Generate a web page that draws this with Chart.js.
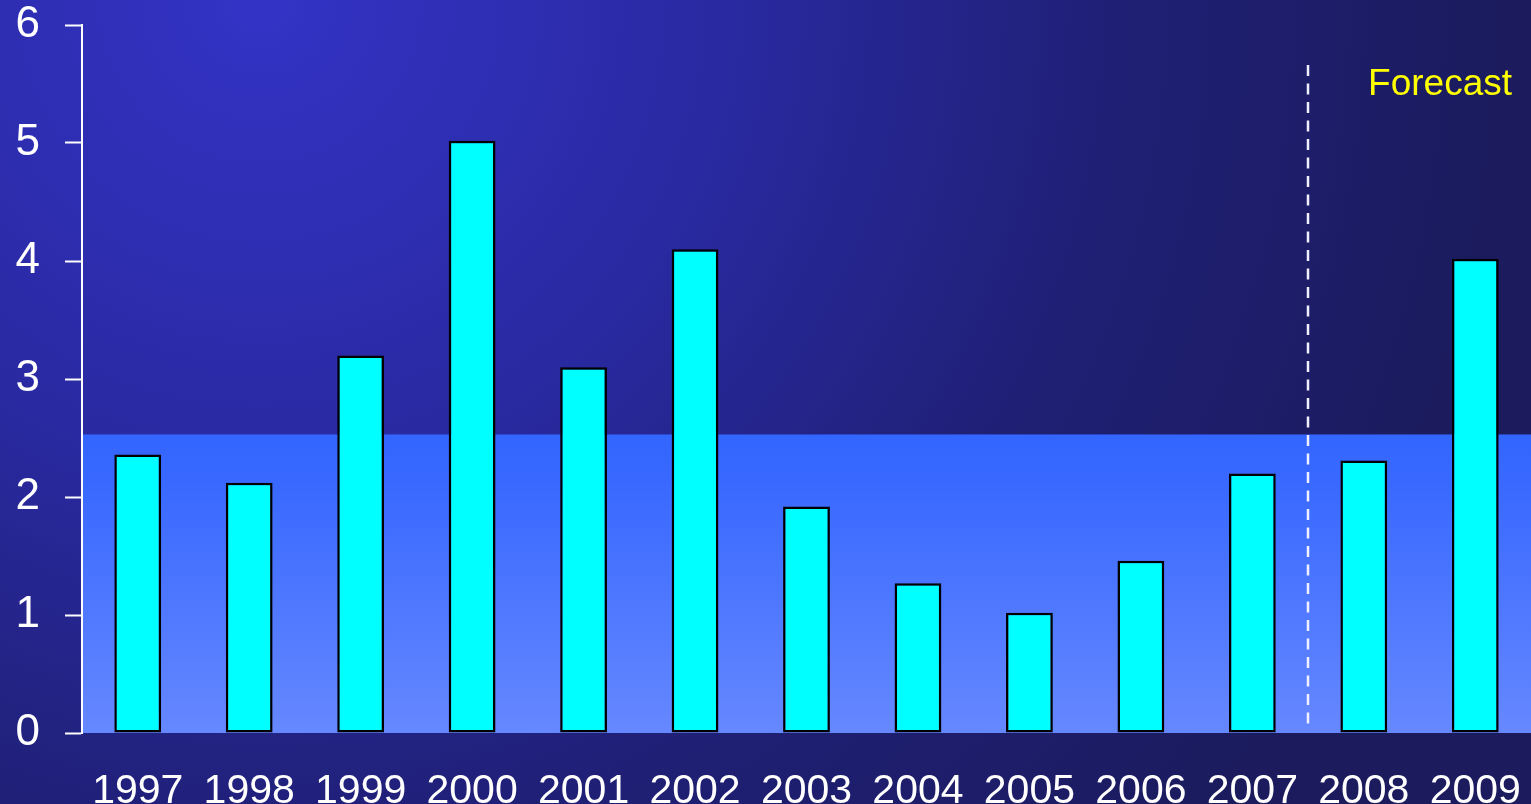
<!DOCTYPE html>
<html>
<head>
<meta charset="utf-8">
<script src="https://cdn.jsdelivr.net/npm/chart.js@4/dist/chart.umd.min.js"></script>
<style>
    body { margin: 0; background: #1c1c64; overflow: hidden; }
    canvas { display: block; }
</style>
</head>
<body>
<canvas id="chart" width="1531" height="804"></canvas>
<script>
var years = ["1997", "1998", "1999", "2000", "2001", "2002", "2003", "2004", "2005", "2006", "2007", "2008", "2009"];
var values = [2.36, 2.12, 3.20, 5.02, 3.10, 4.10, 1.92, 1.27, 1.02, 1.46, 2.20, 2.31, 4.02];
var yTicks = [0, 1, 2, 3, 4, 5, 6];
var bandLevel = 2.53; // light band behind the bars
var forecastAfter = "2007"; // dashed line sits between this year and the next
var forecastTop = 5.66;
var forecastLabel = "Forecast";

var font = "'Liberation Sans', Arial, sans-serif";

// background + light band + forecast marker
var decor = {
    id: "decor",
    beforeDraw: function (chart) {
        var ctx = chart.ctx;
        var w = chart.width, h = chart.height;
        ctx.save();
        var g = ctx.createRadialGradient(260, 0, 0, 260, 0, 1250);
        g.addColorStop(0, "#3333c6");
        g.addColorStop(0.35, "#2a2aa4");
        g.addColorStop(0.7, "#1f1f74");
        g.addColorStop(1, "#1b1b5e");
        ctx.fillStyle = g;
        ctx.fillRect(0, 0, w, h);

        var area = chart.chartArea;
        var y = chart.scales.y;
        var top = y.getPixelForValue(bandLevel);
        var bottom = y.getPixelForValue(0);
        var bg = ctx.createLinearGradient(0, top, 0, bottom);
        bg.addColorStop(0, "#3366ff");
        bg.addColorStop(0.15, "#3868ff");
        bg.addColorStop(1, "#6688ff");
        ctx.fillStyle = bg;
        ctx.fillRect(area.left, top, chart.width - area.left, bottom - top);
        ctx.restore();
    },
    afterDatasetsDraw: function (chart) {
        var ctx = chart.ctx;
        var x = chart.scales.x;
        var y = chart.scales.y;
        var i = years.indexOf(forecastAfter);
        var px = Math.round((x.getPixelForValue(i) + x.getPixelForValue(i + 1)) / 2);
        ctx.save();
        ctx.strokeStyle = "#f0f0ff";
        ctx.lineWidth = 2.5;
        ctx.setLineDash([11, 7.5]);
        ctx.beginPath();
        ctx.moveTo(px, y.getPixelForValue(forecastTop));
        ctx.lineTo(px, y.getPixelForValue(0) - 3);
        ctx.stroke();
        ctx.setLineDash([]);
        ctx.fillStyle = "#ffff00";
        ctx.font = "37px " + font;
        ctx.textAlign = "right";
        ctx.textBaseline = "alphabetic";
        ctx.fillText(forecastLabel, chart.chartArea.right - 19, 95);
        ctx.restore();
    },
};

new Chart(document.getElementById("chart").getContext("2d"), {
    type: "bar",
    data: {
        labels: years,
        datasets: [
            {
                data: values,
                backgroundColor: "#00ffff",
                borderColor: "#000000",
                borderWidth: 2.5,
                borderSkipped: false,
                barPercentage: 0.42,
                categoryPercentage: 1,
            },
        ],
    },
    options: {
        responsive: false,
        animation: false,
        layout: { padding: 0 },
        plugins: {
            legend: false,
            tooltip: { enabled: false },
        },
        scales: {
            x: {
                grid: { display: false, drawTicks: false },
                border: { display: false },
                ticks: {
                    color: "#ffffff",
                    font: { family: font, size: 41 },
                    padding: 34,
                    maxRotation: 0,
                    autoSkip: false,
                },
                afterFit: function (scale) {
                    scale.height = 71;
                    scale.paddingLeft = 0;
                    scale.paddingRight = 0;
                },
            },
            y: {
                min: 0,
                max: 6,
                afterBuildTicks: function (scale) {
                    scale.ticks = yTicks.map(function (v) { return { value: v }; });
                },
                grid: {
                    drawOnChartArea: false,
                    drawTicks: true,
                    tickLength: 17,
                    tickColor: "#ffffff",
                    tickWidth: 2,
                },
                border: { color: "#ffffff", width: 2 },
                ticks: {
                    color: "#ffffff",
                    font: { family: font, size: 44 },
                    padding: 25,
                },
                afterFit: function (scale) {
                    scale.width = 82;
                    scale.paddingTop = 25;
                    scale.paddingBottom = 0;
                },
            },
        },
    },
    plugins: [decor],
});
</script>
</body>
</html>
